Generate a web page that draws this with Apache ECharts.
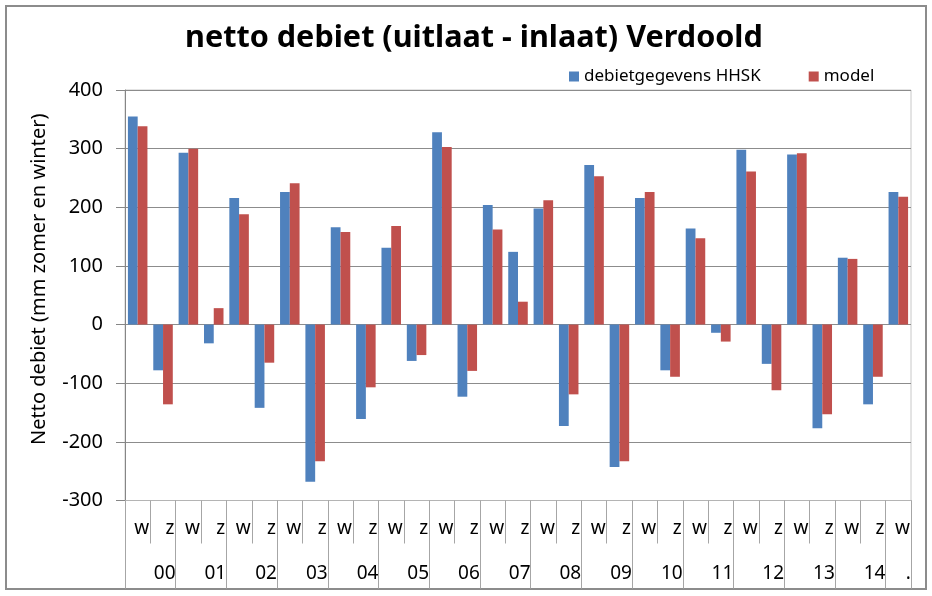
<!DOCTYPE html>
<html>
<head>
<meta charset="utf-8">
<script src="https://cdn.jsdelivr.net/npm/echarts@6/dist/echarts.min.js"></script>
<style>
html,body{margin:0;padding:0;background:#fff;}
#chart{width:932px;height:596px;}
</style>
</head>
<body>
<div id="chart"></div>
<script>
// Seasons (w = winter, z = zomer) per year, final winter of 15
const seasonLabels = ['w','z','w','z','w','z','w','z','w','z','w','z','w','z','w','z','w','z','w','z','w','z','w','z','w','z','w','z','w','z','w'];
const yearLabels = ['','00','','01','','02','','03','','04','','05','','06','','07','','08','','09','','10','','11','','12','','13','','14','.'];
const measured = [355,-78,293,-32,216,-142,226,-268,166,-161,131,-62,328,-123,204,124,198,-173,272,-243,216,-78,164,-14,298,-67,290,-177,114,-136,226];
const model = [338,-136,300,28,188,-65,241,-233,158,-107,168,-52,303,-79,162,39,212,-119,253,-233,226,-89,147,-29,261,-112,292,-153,112,-89,218];
const seriesNames = ['debietgegevens HHSK','model'];
const yTicks = {min:-300, max:400, interval:100};

const FONT = 'Noto Sans';
const chart = echarts.init(document.getElementById('chart'), null, {renderer:'canvas'});
chart.setOption({
  backgroundColor:'#ffffff',
  animation:false,
  textStyle:{fontFamily:FONT, color:'#000'},
  graphic:[{
    type:'rect', shape:{x:6,y:6,width:920,height:583},
    style:{fill:'none', stroke:'#8c8c8c', lineWidth:2}, silent:true, z:-1
  }],
  title:{
    text:'netto debiet (uitlaat - inlaat) Verdoold',
    left:180, top:18,
    textStyle:{fontFamily:FONT, fontWeight:'bold', fontSize:30.6, color:'#000'}
  },
  legend:{
    data:seriesNames, left:564, top:63, icon:'rect', itemWidth:10, itemHeight:10,
    itemGap:48,
    textStyle:{fontFamily:FONT, fontSize:17, color:'#000', padding:[0,0,0,0]}
  },
  grid:{left:125, right:21, top:90, bottom:95.5, show:true, borderColor:'#c8c8c8', borderWidth:1, backgroundColor:'transparent'},
  xAxis:[{
    type:'category', data:seasonLabels, position:'bottom',
    axisLine:{show:true, onZero:false, lineStyle:{color:'#b4b4b4', width:1}},
    axisTick:{show:true, interval:0, length:43, lineStyle:{color:'#a6a6a6'}},
    axisLabel:{interval:0, margin:19, formatter:v=>'{a|'+v+'}',
      rich:{a:{width:25, align:'right', fontSize:19, fontFamily:FONT, color:'#000', padding:[0,2,0,0]}}},
    splitLine:{show:false}
  },{
    type:'category', data:yearLabels, position:'bottom', offset:0,
    axisLine:{show:false, onZero:false},
    axisTick:{show:true, length:88, interval:(i)=>i%2===0, lineStyle:{color:'#a6a6a6'}},
    axisLabel:{interval:0, margin:64, formatter:v=>'{a|'+v+'}',
      rich:{a:{width:25, align:'right', fontSize:19, fontFamily:FONT, color:'#000'}}},
    splitLine:{show:false}
  }],
  yAxis:{
    type:'value', min:yTicks.min, max:yTicks.max, interval:yTicks.interval,
    name:'Netto debiet (mm zomer en winter)', nameLocation:'middle', nameGap:76,
    nameTextStyle:{fontFamily:FONT, fontSize:20, color:'#000', padding:[0,0,0,32]},
    axisLine:{show:true, lineStyle:{color:'#868686'}},
    axisTick:{show:true, length:9, lineStyle:{color:'#868686'}},
    axisLabel:{fontSize:20, margin:22, color:'#000', fontFamily:FONT},
    splitLine:{show:true, lineStyle:{color:'#8c8c8c', width:1}}
  },
  series:[{
    name:seriesNames[0], type:'bar', data:measured, xAxisIndex:0,
    itemStyle:{color:'#4F81BD'}, barGap:'0%', barCategoryGap:'23%'
  },{
    name:seriesNames[1], type:'bar', data:model, xAxisIndex:0,
    itemStyle:{color:'#C0504D'}, barGap:'0%', barCategoryGap:'23%'
  }]
});
</script>
</body>
</html>
